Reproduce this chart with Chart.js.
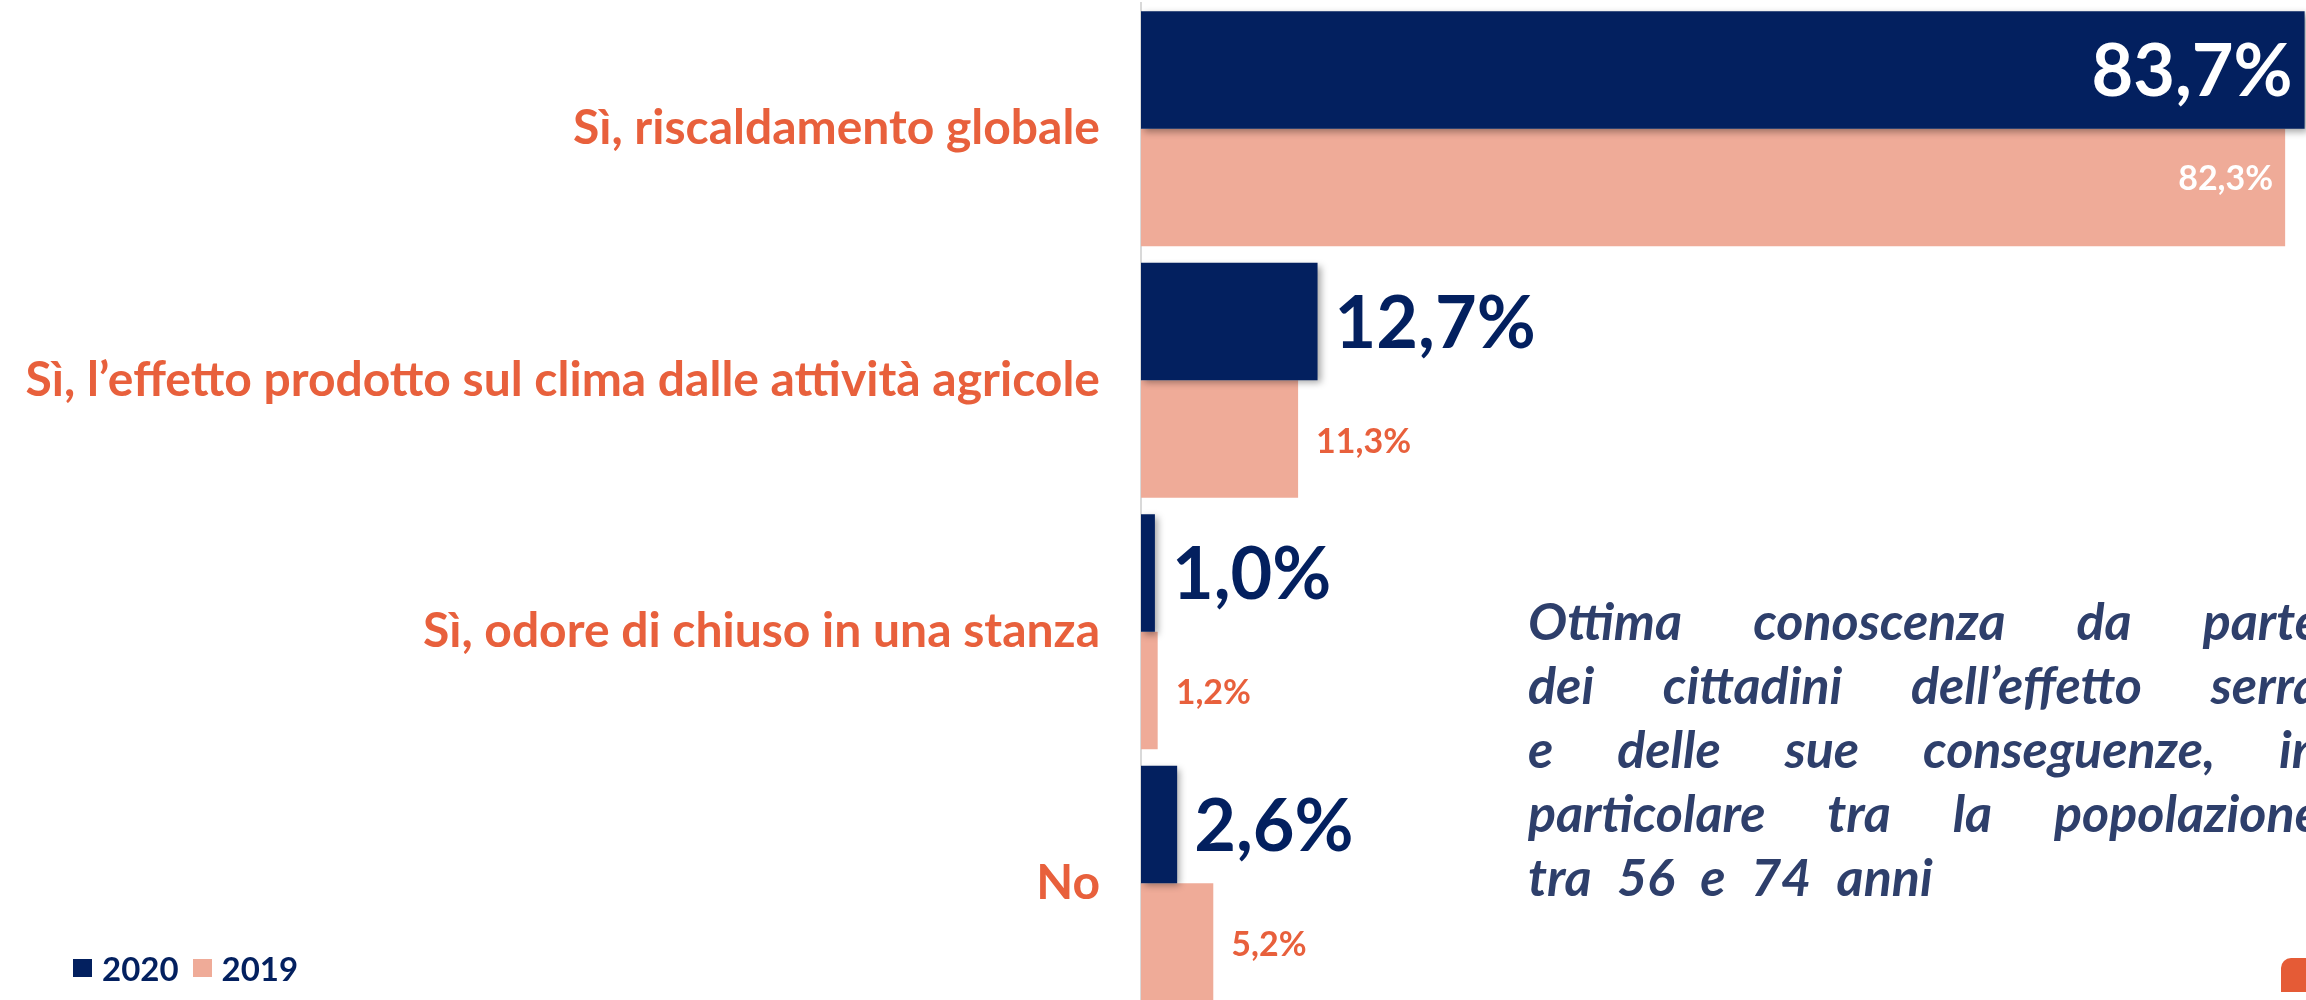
<!DOCTYPE html>
<html>
<head>
<meta charset="utf-8">
<script src="https://cdn.jsdelivr.net/npm/chart.js@4/dist/chart.umd.min.js"></script>
<style>
  html, body { margin: 0; padding: 0; background: #ffffff; width: 2306px; height: 1000px; overflow: hidden; position: relative; }
  #chart { position: absolute; left: 0; top: 0; }
  #note { position: absolute; left: 1528px; top: 588px; width: 792px; font-family: Lato, sans-serif; font-style: italic; font-weight: 700; font-size: 52px; line-height: 64px; color: #2E3F6B; }
  #note div { text-align: justify; text-align-last: justify; white-space: nowrap; }
  #note div.last { text-align: left; text-align-last: left; word-spacing: 14px; }
  #legend { position: absolute; left: 73px; top: 948px; font-family: Lato, sans-serif; font-weight: 700; font-size: 33px; color: #03205F; display: flex; align-items: center; }
  #legend .sw { display: inline-block; width: 19px; height: 18px; margin-right: 10px; }
  #legend .item { display: flex; align-items: center; margin-right: 14px; }
  #logo { position: absolute; left: 2281px; top: 958px; width: 40px; height: 34px; background: #E55B36; border-top-left-radius: 10px; }
</style>
</head>
<body>
<canvas id="chart" width="2306" height="1010"></canvas>
<div id="note">
  <div>Ottima conoscenza da parte</div>
  <div>dei cittadini dell’effetto serra</div>
  <div>e delle sue conseguenze, in</div>
  <div>particolare tra la popolazione</div>
  <div class="last">tra 56 e 74 anni</div>
</div>
<div id="legend"></div>
<div id="logo"></div>
<script>
const categories = [
  'Sì, riscaldamento globale',
  'Sì, l’effetto prodotto sul clima dalle attività agricole',
  'Sì, odore di chiuso in una stanza',
  'No'
];
const seriesNames = ['2020', '2019'];
const values2020 = [83.7, 12.7, 1.0, 2.6];
const values2019 = [82.3, 11.3, 1.2, 5.2];
const seriesColors = ['#03205F', '#EFAB98'];
const labelColor = '#E8603C';

const fmt = v => v.toFixed(1).replace('.', ',') + '%';

// HTML legend built from the series arrays
const legendEl = document.getElementById('legend');
seriesNames.forEach((name, i) => {
  const item = document.createElement('span');
  item.className = 'item';
  const sw = document.createElement('span');
  sw.className = 'sw';
  sw.style.background = seriesColors[i];
  item.appendChild(sw);
  item.appendChild(document.createTextNode(name));
  legendEl.appendChild(item);
});

const shadowPlugin = {
  id: 'barShadow',
  beforeDatasetDraw(chart, args) {
    if (args.index === 0) {
      const ctx = chart.ctx;
      ctx.save();
      ctx.shadowColor = 'rgba(0,0,0,0.35)';
      ctx.shadowBlur = 7;
      ctx.shadowOffsetX = 3;
      ctx.shadowOffsetY = 3;
    }
  },
  afterDatasetDraw(chart, args) {
    if (args.index === 0) chart.ctx.restore();
  }
};

const valueLabels = {
  id: 'valueLabels',
  afterDatasetsDraw(chart) {
    const ctx = chart.ctx;
    ctx.save();
    ctx.textBaseline = 'middle';
    chart.data.datasets.forEach((ds, di) => {
      const meta = chart.getDatasetMeta(di);
      meta.data.forEach((bar, i) => {
        const v = ds.data[i];
        const w = bar.x - bar.base;
        const inside = w > 400;
        if (di === 0) {
          ctx.font = 'bold 72px Lato, sans-serif';
          if (inside) { ctx.fillStyle = '#ffffff'; ctx.textAlign = 'right'; ctx.fillText(fmt(v), bar.x - 12, bar.y + 3); }
          else { ctx.fillStyle = seriesColors[0]; ctx.textAlign = 'left'; ctx.fillText(fmt(v), bar.x + 17, bar.y + 3); }
        } else {
          ctx.font = 'bold 34px Lato, sans-serif';
          if (inside) { ctx.fillStyle = '#ffffff'; ctx.textAlign = 'right'; ctx.fillText(fmt(v), bar.x - 12, bar.y - 8); }
          else { ctx.fillStyle = labelColor; ctx.textAlign = 'left'; ctx.fillText(fmt(v), bar.x + 18, bar.y + 3); }
        }
      });
    });
    ctx.restore();
  }
};

new Chart(document.getElementById('chart'), {
  type: 'bar',
  data: {
    labels: categories,
    datasets: [
      { label: seriesNames[0], data: values2020, backgroundColor: seriesColors[0], borderWidth: 0 },
      { label: seriesNames[1], data: values2019, backgroundColor: seriesColors[1], borderWidth: 0 }
    ]
  },
  options: {
    indexAxis: 'y',
    responsive: false,
    devicePixelRatio: 1,
    animation: false,
    layout: { padding: { top: 3, bottom: 1, right: 0, left: 0 } },
    datasets: { bar: { barPercentage: 1, categoryPercentage: 0.934 } },
    plugins: { legend: { display: false }, tooltip: { enabled: false } },
    scales: {
      x: { display: false, min: 0, max: 83.8 },
      y: {
        afterFit(scale) { scale.width = 1141; scale.paddingTop = 0; scale.paddingBottom = 0; },
        grid: { display: false, drawTicks: true, tickLength: 41 },
        border: { display: true, color: '#D9D9D9', width: 2 },
        ticks: { color: labelColor, padding: 0, font: { family: 'Lato', weight: 'bold', size: 48 } }
      }
    }
  },
  plugins: [shadowPlugin, valueLabels]
});
</script>
</body>
</html>
